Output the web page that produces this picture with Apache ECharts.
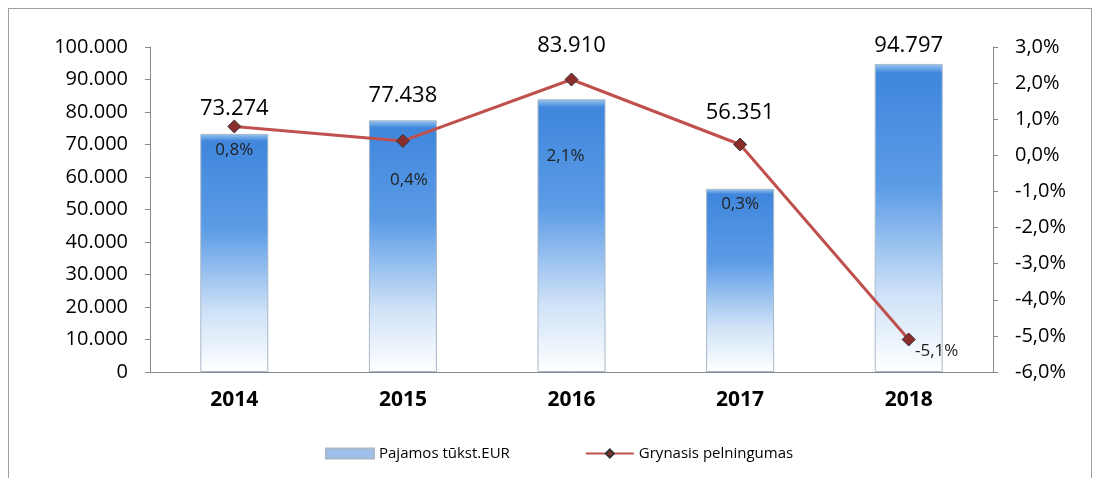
<html>
<head>
<meta http-equiv="Content-Type" content="text/html; charset=utf-8">
<script type="text/javascript" src="https://cdn.jsdelivr.net/npm/echarts@6/dist/echarts.min.js"></script>
<style>
body{margin:0;background:#fff;}
#main{position:absolute;left:0;top:0;width:1093px;height:478px;}
#frame{position:absolute;left:8px;top:8px;width:1082px;height:475px;border:1px solid #a0a0a0;}
</style>
</head>
<body>
<div id="frame"></div>
<div id="main"></div>
<script type="text/javascript">
var years = ['2014', '2015', '2016', '2017', '2018'];
var pajamos = [73274, 77438, 83910, 56351, 94797];
var pelningumas = [0.8, 0.4, 2.1, 0.3, -5.1];

// label placement as in the original (moved by hand there)
var barLabelShift = [[0, 0], [0, 0], [0, -29], [0, -51], [0, 7]];
var lineLabelShift = [[0, 0], [6, 16], [-6, 53], [0, 36], [28, -12]];

function thousand(v){
	return String(v).replace(/\B(?=(\d{3})+(?!\d))/g, '.');
}
function pct(v){
	return v.toFixed(1).replace('.', ',') + '%';
}

var barData = pajamos.map(function(v, i){
	return { value: v, label: { offset: barLabelShift[i] } };
});
var lineData = pelningumas.map(function(v, i){
	return { value: v, label: { offset: lineLabelShift[i] } };
});

var myChart = echarts.init(document.getElementById('main'));
var option = {
	animation: false,
	textStyle: { fontFamily: 'Open Sans' },
	grid: { left: 150, right: 100, top: 47, bottom: 106 },
	legend: {
		bottom: 12,
		left: 320,
		itemGap: 75,
		itemWidth: 48,
		itemHeight: 10,
		textStyle: { fontSize: 15, color: '#000', fontFamily: 'Open Sans' },
		data: [
			{ name: 'Pajamos tūkst.EUR', icon: 'rect', itemStyle: { color: '#9cc0ea' } },
			{ name: 'Grynasis pelningumas' }
		]
	},
	xAxis: [{
		type: 'category',
		data: years,
		axisLine: { lineStyle: { color: '#888' } },
		axisTick: { show: false },
		axisLabel: { fontSize: 21, fontWeight: 'bold', color: '#000', margin: 18 }
	}],
	yAxis: [{
		type: 'value',
		min: 0, max: 100000, interval: 10000,
		axisLine: { show: true, lineStyle: { color: '#888' } },
		axisTick: { show: true, lineStyle: { color: '#888' } },
		splitLine: { show: false },
		axisLabel: { fontSize: 20, color: '#000', margin: 22, formatter: function(v){ return thousand(v); } }
	}, {
		type: 'value',
		min: -6, max: 3, interval: 1,
		axisLine: { show: true, lineStyle: { color: '#888' } },
		axisTick: { show: true, lineStyle: { color: '#888' } },
		splitLine: { show: false },
		axisLabel: { fontSize: 20, color: '#000', margin: 22, formatter: function(v){ return pct(v); } }
	}],
	series: [{
		name: 'Pajamos tūkst.EUR',
		type: 'bar',
		barWidth: 68,
		data: barData,
		itemStyle: {
			borderColor: '#a8b8c8', borderWidth: 1,
			color: new echarts.graphic.LinearGradient(0, 0, 0, 1, [
				{ offset: 0, color: '#9cc8f0' },
				{ offset: 0.03, color: '#3f86dc' },
				{ offset: 0.4, color: '#5c9ce6' },
				{ offset: 0.75, color: '#cfe2f7' },
				{ offset: 1, color: '#ffffff' }
			])
		},
		label: {
			show: true, position: 'top', distance: 14,
			fontSize: 22, color: '#000',
			formatter: function(p){ return thousand(p.value); }
		}
	}, {
		name: 'Grynasis pelningumas',
		type: 'line',
		yAxisIndex: 1,
		data: lineData,
		symbol: 'diamond',
		symbolSize: 13,
		lineStyle: { color: '#c0504d', width: 3 },
		itemStyle: { color: '#8b2e2b', borderColor: '#333', borderWidth: 1 },
		label: {
			show: true, position: 'bottom', distance: 8,
			fontSize: 17, color: '#222',
			formatter: function(p){ return pct(p.value); }
		}
	}]
};
myChart.setOption(option);
</script>
</body>
</html>
